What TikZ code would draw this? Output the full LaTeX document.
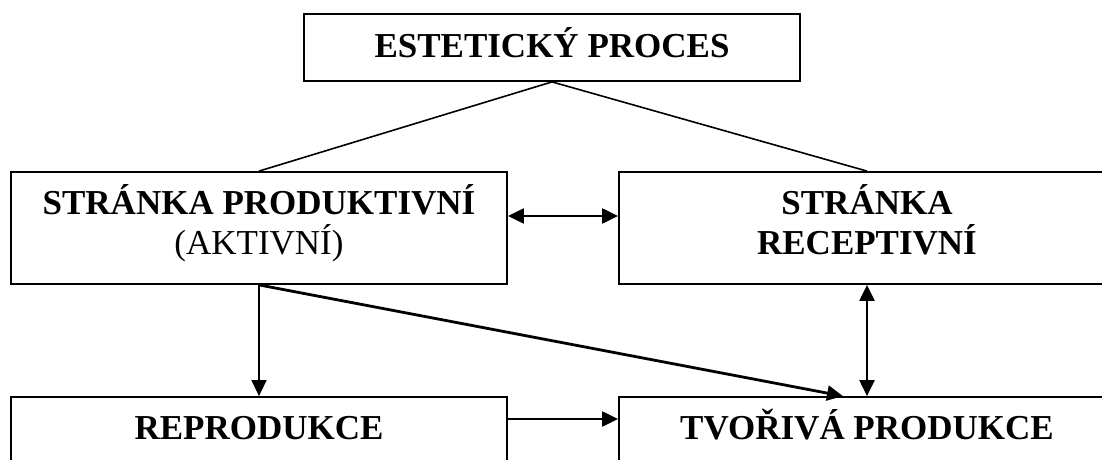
\documentclass[tikz,border=0pt]{standalone}
\usepackage{fontspec}
\setmainfont{Liberation Serif}
\usetikzlibrary{arrows.meta,calc}
\newcommand\dstrut{\rule[-18pt]{0pt}{18pt}}
\begin{document}
\begin{tikzpicture}[x=1pt,y=-1pt,
  box/.style={draw, line width=1.8pt, minimum width=496pt, inner sep=0pt, align=center,
    font=\fontsize{35}{40}\selectfont\bfseries},
  oneline/.style={text height=23pt, text depth=3pt},
  link/.style={line width=1.6pt},
  tip/.style={-{Triangle[length=16pt,width=15pt]}},
  arr/.style={line width=2.2pt, tip},
  darr/.style={line width=2.2pt, {Triangle[length=16pt,width=15pt]}-{Triangle[length=16pt,width=15pt]}},
]
\useasboundingbox (0,0) rectangle (1102,460);
\clip (0,0) rectangle (1102,460);
\fill[white] (0,0) rectangle (1102,460);
\node[box, oneline, minimum height=67pt] (top) at (552,47.5) {ESTETICKÝ PROCES};
\node[box, minimum height=112pt] (prod) at (259,228) {STRÁNKA PRODUKTIVNÍ\\\textmd{(AKTIVNÍ)}\dstrut};
\node[box, minimum height=112pt] (rec) at (867,228) {STRÁNKA\\RECEPTIVNÍ\dstrut};
\node[box, oneline, minimum height=64pt] (repro) at (259,429) {REPRODUKCE};
\node[box, oneline, minimum height=64pt] (tvor) at (867,429) {TVOŘIVÁ PRODUKCE};
\coordinate (tvorin) at ($(tvor.north)+(-24,0)$);
\draw[link] (top.south) -- (prod.north);
\draw[link] (top.south) -- (rec.north);
\draw[darr] ($(prod.east)+(0,-12)$) -- ($(rec.west)+(0,-12)$);
\draw[arr, line width=1.6pt] (prod.south) -- (repro.north);
\draw[arr, line width=2.8pt] (prod.south) -- (tvorin);
\draw[darr] (rec.south) -- (tvor.north);
\draw[arr] ($(repro.east)+(0,-10)$) -- ($(tvor.west)+(0,-10)$);
\end{tikzpicture}
\end{document}
